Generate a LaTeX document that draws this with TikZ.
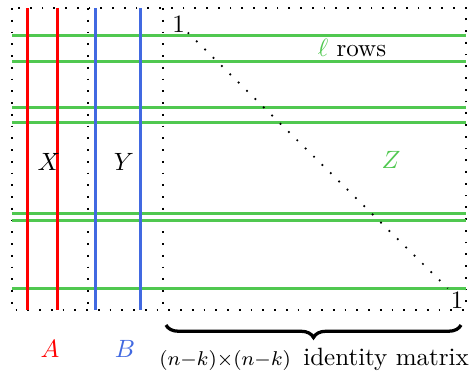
\documentclass[tikz,border=0pt]{standalone}
\usepackage{tikz}
\usetikzlibrary{decorations.pathreplacing}
\definecolor{rowGreen}{RGB}{80,200,80}
\definecolor{colBlue}{RGB}{65,105,225}
\definecolor{colRed}{RGB}{255,0,0}

\begin{document}
\begin{tikzpicture}[
  x=0.4pt,y=-0.4pt,
  dots/.style={loosely dotted,line width=0.7pt},
  greenrow/.style={rowGreen,line width=1.2pt},
  redcol/.style={colRed,line width=1.2pt},
  bluecol/.style={colBlue,line width=1.2pt},
  lbl/.style={anchor=base,inner sep=0pt},
  bracebar/.style={decorate,decoration={brace,mirror,amplitude=5pt},line width=1.3pt}
]
\useasboundingbox (0,0) rectangle (472,374);

% frame of the matrix
\coordinate (tl) at (12,8);
\coordinate (br) at (466,310);
\draw[dots] (tl) rectangle (br);
\foreach \x in {88,163} \draw[dots] (\x,8) -- (\x,310);

% rows and columns
\foreach \y in {35,61,107,122,213,220,288} \draw[greenrow] (12,\y) -- (466,\y);
\foreach \x in {27,57} \draw[redcol] (\x,8) -- (\x,310);
\foreach \x in {95,140} \draw[bluecol] (\x,8) -- (\x,310);

% identity block
\node[lbl] (onea) at (178.5,32) {1};
\node[lbl] (oneb) at (457,308) {1};
\draw[dots] ([xshift=1pt]onea.south east) -- ([shift={(-1pt,1pt)}]oneb.north west);

% labels
\node[lbl] (xlab) at (49,170) {$X$};
\node[lbl] (ylab) at (124,170) {$Y$};
\node[lbl,text=rowGreen] (zlab) at (391,168) {$Z$};
\node[lbl] (rows) at (352,56) {$\textcolor{rowGreen}{\ell}$ rows};
\node[lbl,text=colRed] (alab) at (50,357) {$A$};
\node[lbl,text=colBlue] (blab) at (125,357) {$B$};

% brace under the identity block
\coordinate (bra) at (166,325);
\coordinate (brb) at (461,325);
\draw[bracebar] (bra) -- (brb);
\node[lbl] (idm) at (314,365) {{\footnotesize $(n{-}k){\times}(n{-}k)$}\ \,identity matrix};
\end{tikzpicture}
\end{document}
